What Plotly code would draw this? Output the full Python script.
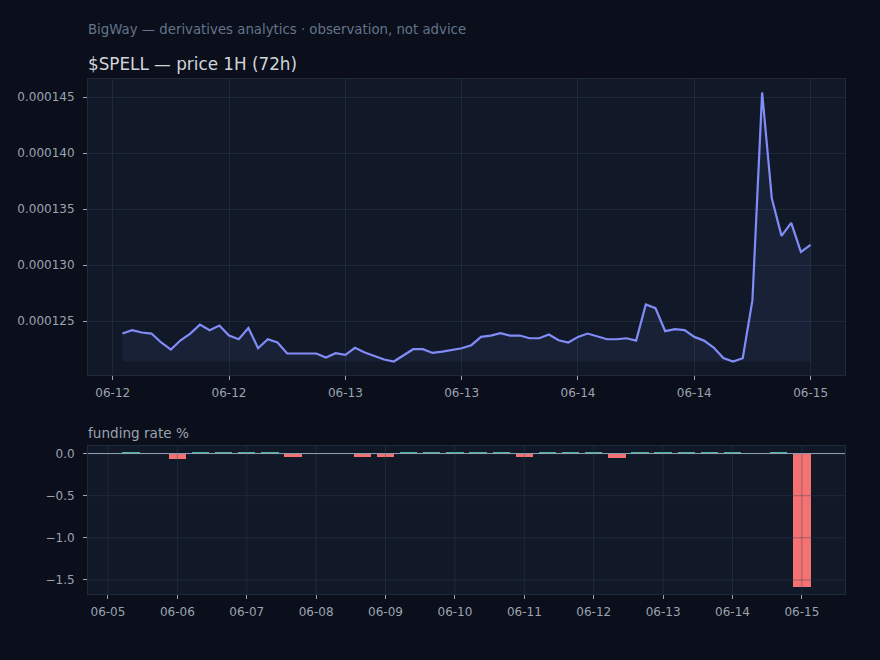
import pandas as pd
import plotly.graph_objects as go

# ---------------- data ----------------
price_times = pd.date_range("2024-06-12 01:00", periods=72, freq="h")
price_e6 = [
    123.90, 124.20, 123.99, 123.90, 123.10, 122.47, 123.30, 123.90, 124.70, 124.20,
    124.62, 123.72, 123.39, 124.40, 122.59, 123.39, 123.10, 122.12, 122.12, 122.12,
    122.12, 121.76, 122.14, 121.99, 122.62, 122.21, 121.88, 121.58, 121.40, 121.94,
    122.50, 122.50, 122.17, 122.29, 122.41, 122.59, 122.86, 123.60, 123.72, 123.93,
    123.72, 123.72, 123.48, 123.48, 123.81, 123.30, 123.10, 123.60, 123.90, 123.63,
    123.39, 123.39, 123.48, 123.27, 126.49, 126.16, 124.11, 124.29, 124.20, 123.60,
    123.27, 122.65, 121.72, 121.40, 121.70, 126.88, 145.42, 135.96, 132.62, 133.78,
    131.19, 131.81,
]
price = [v * 1e-6 for v in price_e6]

funding_times = pd.date_range("2024-06-05 08:00", periods=30, freq="8h")
funding = [
    0.01, 0.0, -0.07, 0.01, 0.01, 0.01, 0.01, -0.035, 0.0, 0.0,
    -0.035, -0.035, 0.01, 0.01, 0.01, 0.01, 0.01, -0.035, 0.01, 0.01,
    0.01, -0.05, 0.01, 0.01, 0.01, 0.01, 0.01, 0.0, 0.01, -1.587,
]

price_ticks = pd.date_range("2024-06-12 00:00", periods=7, freq="12h")
price_ticktext = [t.strftime("%m-%d") for t in price_ticks]
price_yticks = [0.000125, 0.000130, 0.000135, 0.000140, 0.000145]
fund_ticks = pd.date_range("2024-06-05", periods=11, freq="D")
fund_ticktext = [t.strftime("%m-%d") for t in fund_ticks]
fund_yticks = [0.0, -0.5, -1.0, -1.5]

# ---------------- style ----------------
FIG_BG = "#0a0f1b"
AX_BG = "#111827"
GRID = "rgba(51,65,85,0.42)"
SPINE = "#1f2937"
TICK = "#9ca3af"
LINE = "#818cf8"
GREEN = "#4db8a0"
RED = "#f47272"
FONT = "DejaVu Sans"

W, H = 880, 660
def px_x(a, b):
    return [a / W, b / W]
def px_y(top, bottom):
    return [1 - bottom / H, 1 - top / H]

fig = go.Figure()

base = min(price)
fig.add_trace(go.Scatter(x=list(price_times), y=[base] * len(price), mode="lines",
                         line=dict(width=0), showlegend=False, hoverinfo="skip",
                         xaxis="x", yaxis="y"))
fig.add_trace(go.Scatter(x=list(price_times), y=price, mode="lines",
                         line=dict(color=LINE, width=2.2), fill="tonexty",
                         fillcolor="rgba(129,140,248,0.08)", showlegend=False,
                         xaxis="x", yaxis="y"))

colors = [GREEN if v >= 0 else RED for v in funding]
fig.add_trace(go.Bar(x=list(funding_times), y=funding, marker=dict(color=colors, line=dict(width=0)),
                     width=6 * 3600 * 1000, showlegend=False, xaxis="x2", yaxis="y2"))

# x ranges (matplotlib-like 5% margins)
p_span = price_times[-1] - price_times[0]
p_x0 = price_times[0] - 0.05 * p_span
p_x1 = price_times[-1] + 0.05 * p_span
pmin, pmax = min(price), max(price)
p_y0 = pmin - 0.05 * (pmax - pmin)
p_y1 = pmax + 0.05 * (pmax - pmin)

half = pd.Timedelta(hours=3)
f_left = funding_times[0] - half
f_right = funding_times[-1] + half
f_span = f_right - f_left
f_x0 = f_left - 0.05 * f_span
f_x1 = f_right + 0.05 * f_span
fmin, fmax = min(funding), max(funding)
f_y0 = fmin - 0.05 * (fmax - fmin)
f_y1 = fmax + 0.05 * (fmax - fmin)

axis_common = dict(
    showline=True, linecolor=SPINE, linewidth=1, mirror=True,
    ticks="outside", ticklen=4, tickcolor=TICK, tickwidth=1,
    tickfont=dict(family=FONT, size=12, color=TICK),
    zeroline=False,
)

fig.update_layout(
    width=W, height=H,
    margin=dict(l=0, r=0, t=0, b=0),
    paper_bgcolor=FIG_BG, plot_bgcolor=AX_BG,
    showlegend=False,
    bargap=0,
    xaxis=dict(domain=px_x(88, 845), anchor="y", range=[p_x0, p_x1],
               tickvals=list(price_ticks), ticktext=price_ticktext, ticklabelstandoff=3,
               showgrid=True, gridcolor=GRID, gridwidth=1, **axis_common),
    yaxis=dict(domain=px_y(79, 375), anchor="x", range=[p_y0, p_y1],
               tickvals=price_yticks, tickformat=".6f", ticklabelstandoff=6,
               showgrid=True, gridcolor=GRID, gridwidth=1, **axis_common),
    xaxis2=dict(domain=px_x(88, 845), anchor="y2", range=[f_x0, f_x1],
                tickvals=list(fund_ticks), ticktext=fund_ticktext, ticklabelstandoff=3,
                showgrid=False, **axis_common),
    yaxis2=dict(domain=px_y(446, 594), anchor="x2", range=[f_y0, f_y1],
                tickvals=fund_yticks, tickformat=".1f", ticklabelstandoff=6,
                showgrid=False, **axis_common),
)

# grid drawn above bars (as in the reference), plus zero line
shapes = []
for t in fund_ticks:
    shapes.append(dict(type="line", xref="x2", yref="y2", x0=t, x1=t, y0=f_y0, y1=f_y1,
                       line=dict(color=GRID, width=1), layer="above"))
for v in fund_yticks:
    shapes.append(dict(type="line", xref="x2", yref="y2", x0=f_x0, x1=f_x1, y0=v, y1=v,
                       line=dict(color=GRID, width=1), layer="above"))
shapes.append(dict(type="line", xref="x2", yref="y2", x0=f_x0, x1=f_x1, y0=0, y1=0,
                   line=dict(color="#94a3b8", width=1), layer="above"))
fig.update_layout(shapes=shapes)

fig.add_annotation(text="BigWay — derivatives analytics · observation, not advice",
                   xref="paper", yref="paper", x=86 / W, y=1 - 30 / H,
                   xanchor="left", yanchor="middle", showarrow=False,
                   font=dict(family=FONT, size=13.3, color="#64748b"))
fig.add_annotation(text="$SPELL — price 1H (72h)",
                   xref="paper", yref="paper", x=86 / W, y=1 - 64 / H,
                   xanchor="left", yanchor="middle", showarrow=False,
                   font=dict(family=FONT, size=16.8, color="#d1d5db"))
fig.add_annotation(text="funding rate %",
                   xref="paper", yref="paper", x=86 / W, y=1 - 433 / H,
                   xanchor="left", yanchor="middle", showarrow=False,
                   font=dict(family=FONT, size=13.6, color="#9ca3af"))

fig.write_html("out.html")
